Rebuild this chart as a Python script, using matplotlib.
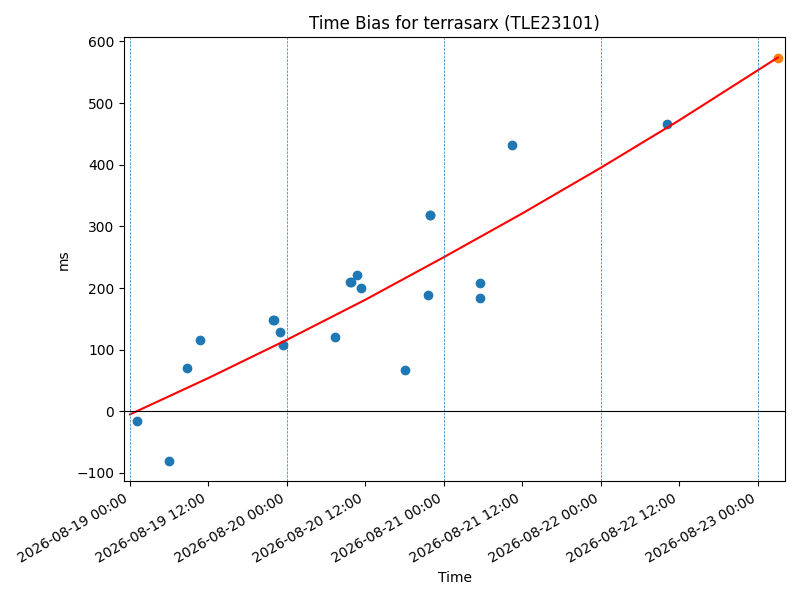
import numpy as np
import pandas as pd
import matplotlib
matplotlib.use("Agg")
import matplotlib.pyplot as plt
import matplotlib.dates as mdates

start = pd.Timestamp("2026-08-19 00:00")

# observed points: hours after start, bias in ms
obs_hours = [1.0, 6.0, 8.7, 10.7, 21.9, 22.05, 22.9, 23.4, 31.3, 33.7, 33.85,
             34.8, 35.4, 42.0, 45.6, 45.85, 45.95, 53.5, 53.5, 58.5, 82.2]
obs_ms = [-15, -81, 71, 116, 148, 148, 129, 108, 121, 210, 210,
          221, 200, 67, 189, 318, 318, 208, 184, 432, 466]

# predicted point
pred_hours = [99.1]
pred_ms = [574]

# fit curve
fit_hours = [0, 12, 24, 36, 48, 60, 72, 84, 99.1]
fit_ms = [-5, 54, 116, 181, 250, 321, 395, 472, 574]

day_marks = ["2026-08-19", "2026-08-20", "2026-08-21", "2026-08-22", "2026-08-23"]

def to_t(hours):
    return [start + pd.Timedelta(hours=h) for h in hours]

fig, ax = plt.subplots(figsize=(8, 6), dpi=100)
ax.scatter(to_t(obs_hours), obs_ms)
ax.scatter(to_t(pred_hours), pred_ms)
ax.plot(to_t(fit_hours), fit_ms, color="red")
for d in day_marks:
    ax.axvline(pd.Timestamp(d), ls="--", lw=0.5)
ax.axhline(0, color="black", lw=0.8)

ax.set_xlim(start - pd.Timedelta(hours=0.9), start + pd.Timedelta(hours=100.2))
ax.xaxis.set_major_locator(mdates.HourLocator(byhour=[0, 12]))
ax.xaxis.set_major_formatter(mdates.DateFormatter("%Y-%m-%d %H:%M"))
ax.set_title("Time Bias for terrasarx (TLE23101)")
ax.set_xlabel("Time")
ax.set_ylabel("ms")
fig.autofmt_xdate()
fig.tight_layout()
fig.savefig("out.png")
